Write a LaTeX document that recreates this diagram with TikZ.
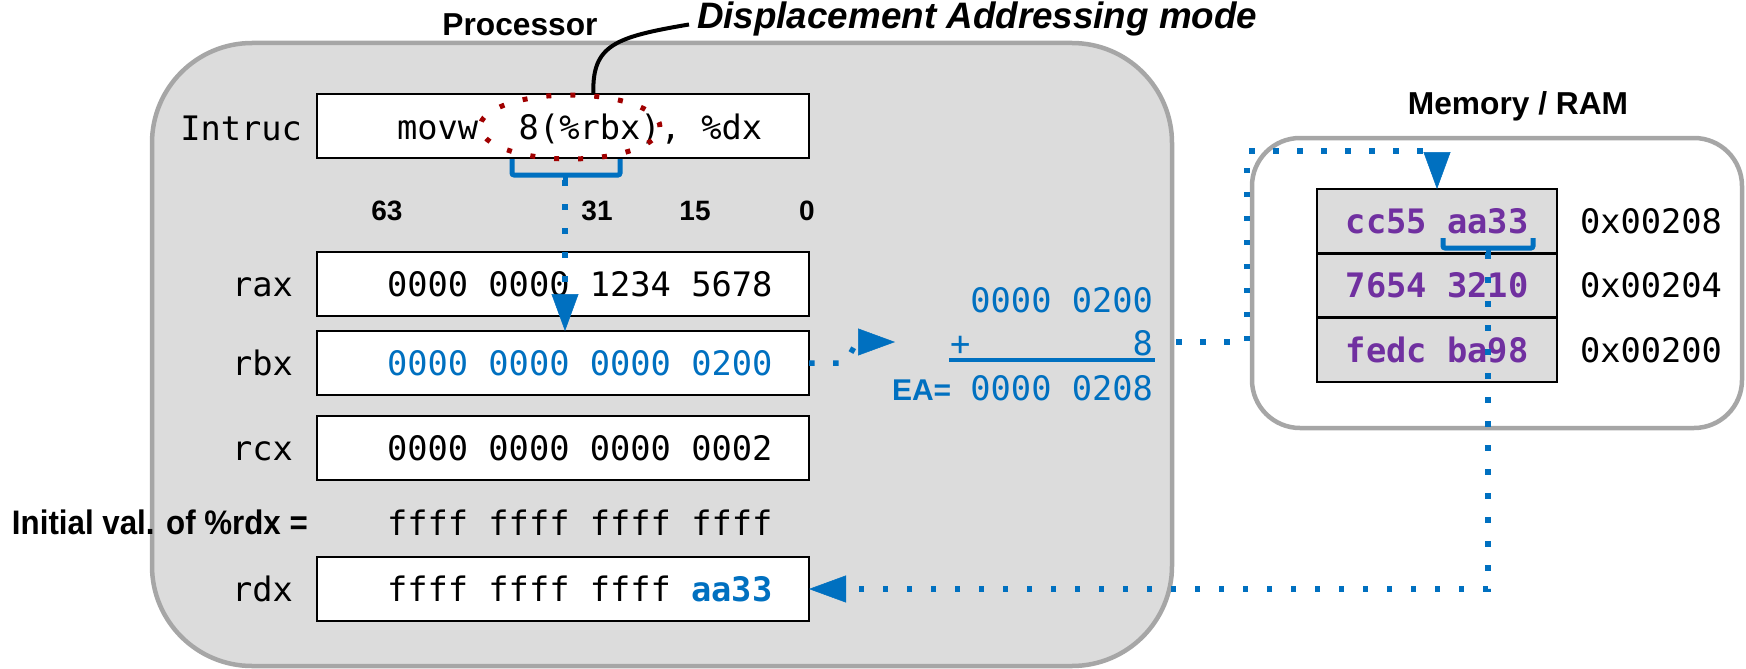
\documentclass[tikz,border=0pt]{standalone}
\usepackage{fontspec}
\setmainfont{Liberation Sans}
\newfontfamily\monofam{DejaVu Sans Mono}
\newfontfamily\narrowfam{Liberation Sans}[FakeStretch=0.92]
\usetikzlibrary{arrows.meta,shapes.geometric}

\definecolor{procfill}{RGB}{220,220,220}
\definecolor{framegray}{RGB}{166,166,166}
\definecolor{linkblue}{RGB}{0,112,192}
\definecolor{bytepurple}{RGB}{112,48,160}
\definecolor{markred}{RGB}{160,0,0}

\newcommand\codesize{\monofam\fontsize{33.7}{40}\selectfont}
\newcommand\headsize{\bfseries\fontsize{31.7}{38}\selectfont}
\newcommand\bitsize{\bfseries\fontsize{28}{34}\selectfont}

\tikzset{
  txt/.style={inner sep=0pt, outer sep=0pt},
  codetxt/.style={txt, font=\codesize},
  headtxt/.style={txt, font=\headsize},
  bittxt/.style={txt, font=\bitsize, anchor=base},
  procbox/.style={draw=framegray, fill=procfill, line width=4.5pt,
    rounded corners=100pt, minimum width=1020pt, minimum height=623pt,
    inner sep=0pt, outer sep=0pt},
  membox/.style={draw=framegray, fill=white, line width=4.5pt,
    rounded corners=48pt, minimum width=490pt, minimum height=290pt,
    inner sep=0pt, outer sep=0pt},
  regbox/.style={draw=black, fill=white, line width=2pt,
    minimum width=492pt, minimum height=64pt, inner sep=0pt, outer sep=0pt},
  cell/.style={draw=black, fill=procfill, line width=2.5pt,
    minimum width=240pt, minimum height=64.33pt, inner sep=0pt, outer sep=0pt,
    text=bytepurple, font=\codesize\bfseries},
  brk/.style={draw=linkblue, line width=5pt, rounded corners=2pt},
  dotline/.style={draw=linkblue, line width=5.5pt, dash pattern=on 5.5pt off 18.5pt},
  bluearrow/.style={-{Triangle[length=37pt,width=27pt,line width=0.5pt]}},
}

\begin{document}
\begin{tikzpicture}[x=1pt,y=-1pt]
\useasboundingbox (0,0) rectangle (1746,669);

% frames
\node[procbox] (proc) at (662,354.5) {};
\node[membox] (mem) at (1497,283) {};

% titles
\node[headtxt, anchor=base] (proclab) at (520,36) {Processor};
\node[headtxt, anchor=base] (memlab) at (1518,114) {Memory / RAM};
\node[txt, anchor=base west, font=\bfseries\itshape\fontsize{36.8}{44}\selectfont]
  (disp) at (697,29) {Displacement Addressing mode};

% instruction register
\node[regbox] (ins) at (563,126) {};
\node[codetxt, anchor=base east] (inslab) at (302,140) {Intruc};
\node[codetxt, anchor=base west] (instxt) at (397,139) {movw\ \ 8(\%rbx), \%dx};

% bit positions
\node[bittxt] (b63) at (387,220) {63};
\node[bittxt] (b31) at (597,220) {31};
\node[bittxt] (b15) at (695,220) {15};
\node[bittxt] (b0)  at (807,220) {0};

% general purpose registers
\node[regbox] (rax) at (563,284) {};
\node[regbox] (rbx) at (563,363) {};
\node[regbox] (rcx) at (563,448) {};
\node[regbox] (rdx) at (563,589) {};

\node[codetxt, anchor=base east] (raxlab) at (293,296.3) {rax};
\node[codetxt, anchor=base east] (rbxlab) at (293,375.3) {rbx};
\node[codetxt, anchor=base east] (rcxlab) at (293,460.3) {rcx};
\node[codetxt, anchor=base east] (rdxlab) at (293,601.3) {rdx};

\node[codetxt, anchor=base west] (raxval) at (387,296.3) {0000 0000 1234 5678};
\node[codetxt, anchor=base west, text=linkblue] (rbxval) at (387,375.3) {0000 0000 0000 0200};
\node[codetxt, anchor=base west] (rcxval) at (387,460.3) {0000 0000 0000 0002};
\node[codetxt, anchor=base west] (rdxval) at (387,601.3)
  {ffff ffff ffff \textcolor{linkblue}{\bfseries aa33}};

\node[txt, anchor=base west, font=\narrowfam\bfseries\fontsize{34}{40}\selectfont]
  (initlab) at (12,534) {Initial val. of \%rdx =};
\node[codetxt, anchor=base west] (initval) at (387,535) {ffff ffff ffff ffff};

% effective address computation
\node[codetxt, anchor=base east, text=linkblue] (base) at (1153,312) {0000 0200};
\node[codetxt, anchor=base west, text=linkblue] (plus) at (950,355) {+};
\node[codetxt, anchor=base east, text=linkblue] (offs) at (1153,355) {8};
\draw[linkblue, line width=4pt] (949,359.5) -- (1155,359.5);
\node[txt, anchor=base west, text=linkblue, font=\bfseries\fontsize{30}{36}\selectfont]
  (ealab) at (892,400) {EA=};
\node[codetxt, anchor=base east, text=linkblue] (eaval) at (1153,400) {0000 0208};

% memory words
\node[cell] (c208) at (1437,221.2) {cc55 aa33};
\node[cell] (c204) at (1437,285.5) {7654 3210};
\node[cell] (c200) at (1437,349.8) {fedc ba98};
\node[codetxt, anchor=base west] (a208) at (1580,233.5) {0x00208};
\node[codetxt, anchor=base west] (a204) at (1580,297.8) {0x00204};
\node[codetxt, anchor=base west] (a200) at (1580,362.1) {0x00200};

% operand marking and callout
\node[ellipse, draw=markred, line width=5pt, dash pattern=on 5pt off 19pt,
  minimum width=180pt, minimum height=64pt, inner sep=0pt] (ell) at (570,127) {};
\draw[black, line width=4pt] (ell.55) .. controls (592,45) and (615,37) ..
  ([xshift=-8pt,yshift=-5pt]disp.west);

% braces
\draw[brk] (512,159) -- (512,175) -- (620,175) -- (620,159);
\draw[brk] (565,175) -- (565,180);
\coordinate (brkA) at (565,180);
\draw[brk] (1443,238) -- (1443,248) -- (1533,248) -- (1533,238);
\draw[brk] (1488,248) -- (1488,253);
\coordinate (brkB) at (1488,253);

% data flow
\coordinate (sumin) at (895,342);
\coordinate (sumout) at (1176,342);
\draw[dotline, bluearrow] (brkA) -- (brkA |- rbx.north);
\draw[dotline, bluearrow] (rbx.east) -- ++(36,0) -- (857,342) -- (sumin);
\draw[dotline, bluearrow] (sumout) -- (1247,342) -- (1247,151) -| (c208.north);
\draw[dotline, bluearrow] (brkB) |- (rdx.east);
\end{tikzpicture}
\end{document}
